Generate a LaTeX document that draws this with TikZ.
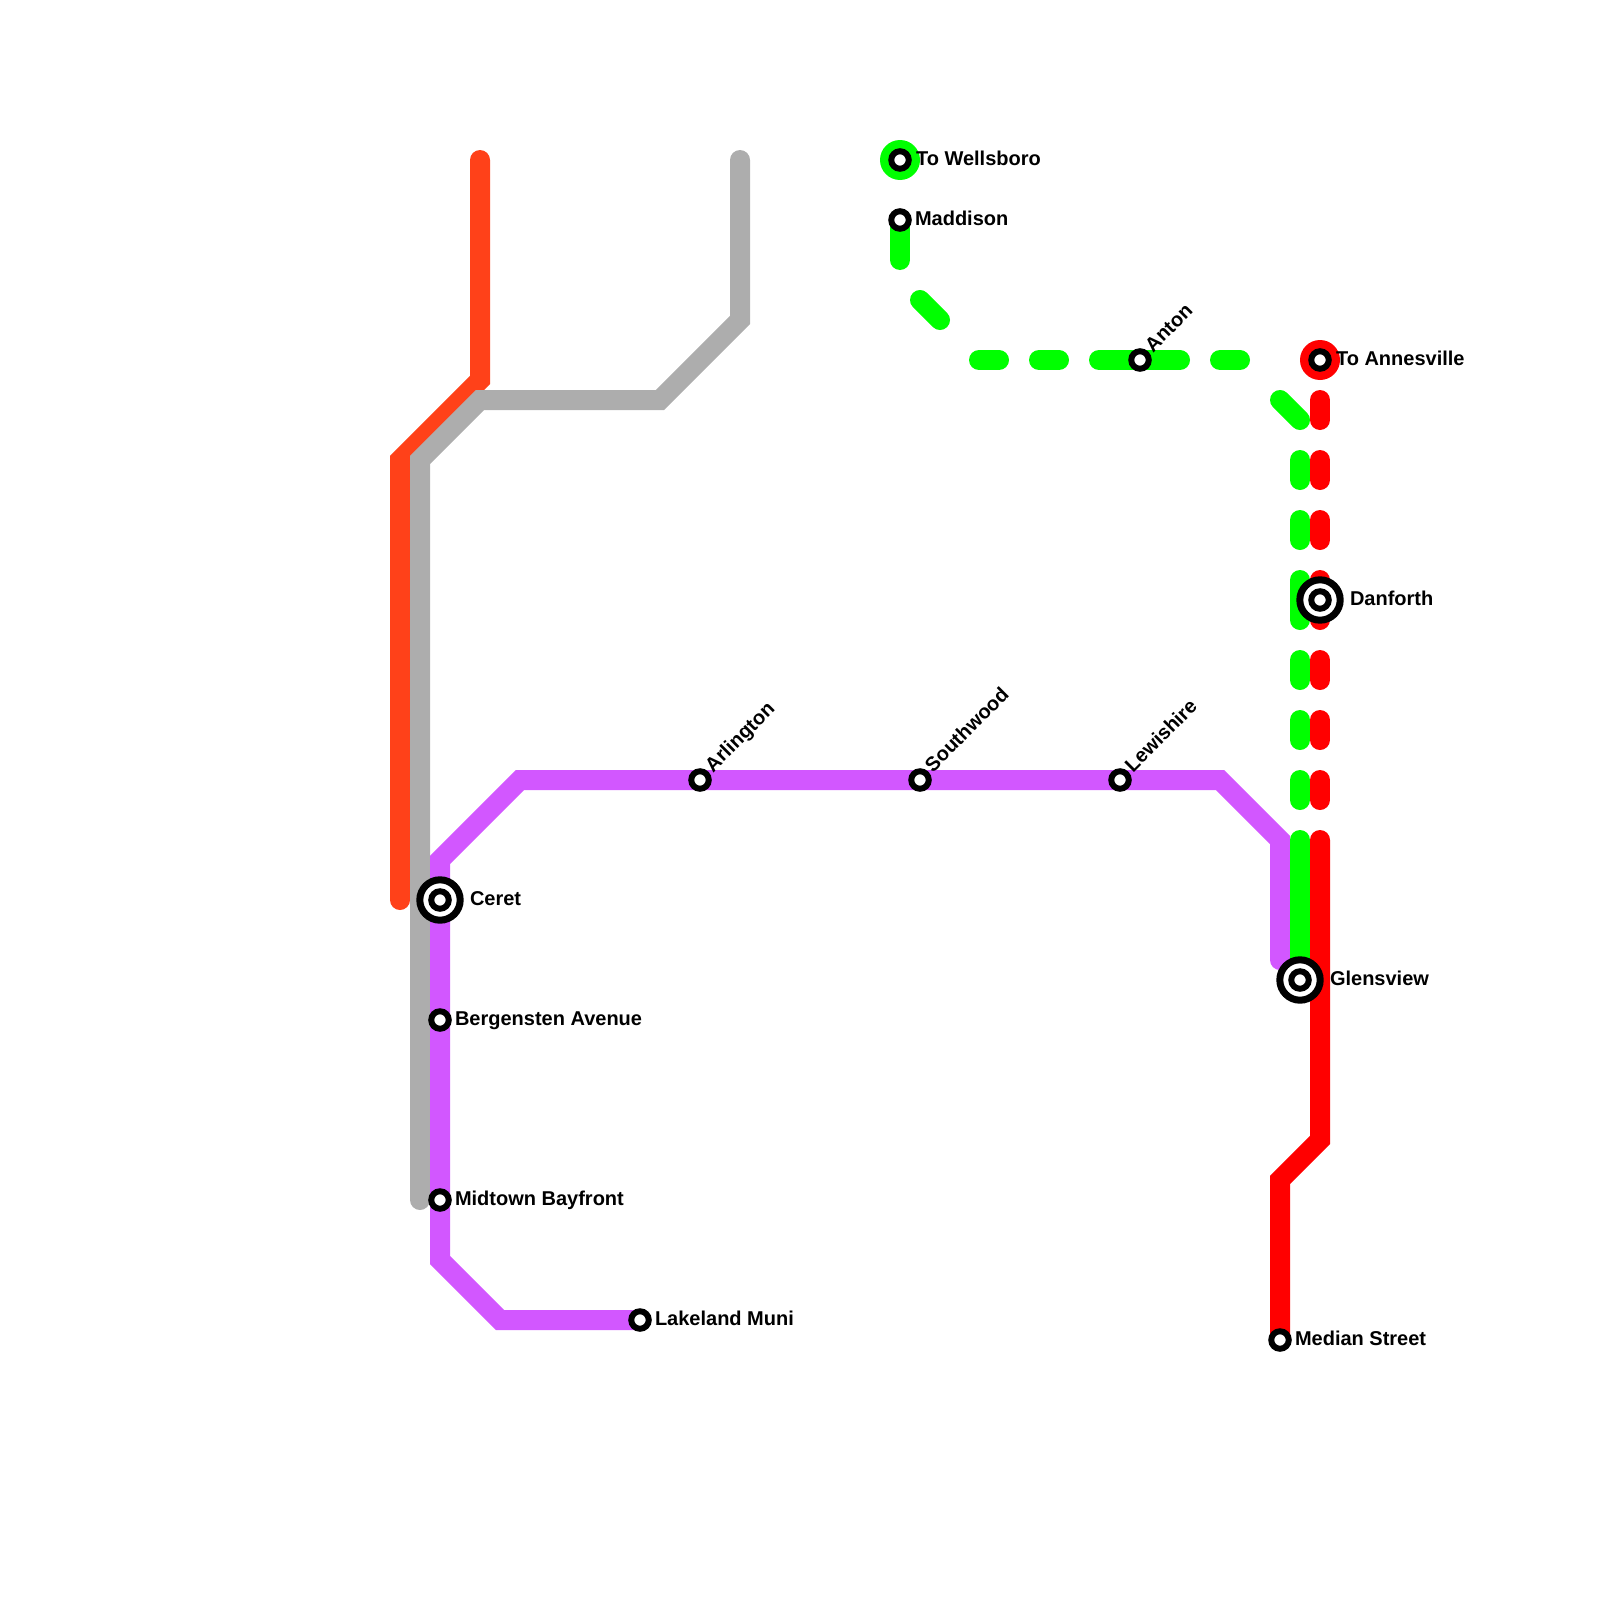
\documentclass[tikz,border=0pt]{standalone}
\usepackage{fontspec}
\setmainfont{Liberation Sans}
\definecolor{cOrange}{HTML}{FF4119}
\definecolor{cGray}{HTML}{ADADAD}
\definecolor{cPurple}{HTML}{D257FF}
\definecolor{cGreen}{HTML}{00FF00}
\definecolor{cRed}{HTML}{FF0000}
\tikzset{
  x=1pt,y=-1pt,
  transit/.style={line width=20pt,line join=miter,miter limit=10},
  capped/.style={transit,line cap=round},
  terminal/.style={circle,minimum size=40pt,inner sep=0pt,outer sep=0pt},
  stn/.style={circle,draw=black,fill=white,line width=6pt,minimum size=17.5pt,inner sep=0pt,outer sep=0pt},
  hubouter/.style={circle,draw=black,fill=white,line width=7pt,minimum size=40.4pt,inner sep=0pt,outer sep=0pt},
  lbl/.style={font=\fontsize{20}{22}\selectfont\bfseries,inner sep=0pt,outer sep=0pt,anchor=base west,text=black},
  lblr/.style={lbl,rotate=45},
}
\begin{document}
\begin{tikzpicture}
\useasboundingbox (0,0) rectangle (1600,1600);
% station positions
\coordinate (pWell) at (900,160);
\coordinate (pMadd) at (900,220);
\coordinate (pAnton) at (1140,360);
\coordinate (pAnne) at (1320,360);
\coordinate (pDanf) at (1320,600);
\coordinate (pGlen) at (1300,980);
\coordinate (pCeret) at (440,900);
\coordinate (pBerg) at (440,1020);
\coordinate (pMidt) at (440,1200);
\coordinate (pLake) at (640,1320);
\coordinate (pArl) at (700,780);
\coordinate (pSouth) at (920,780);
\coordinate (pLew) at (1120,780);
\coordinate (pMed) at (1280,1340);
% orange and grey lines
\draw[capped,line join=miter,cOrange] (480,160) -- (480,380) -- (400,460) -- (400,900);
\draw[capped,cGray] (740,160) -- (740,320) -- (660,400) -- (480,400) -- (420,460) -- (420,1200);
% purple line
\draw[capped,cPurple] (pLake) -- (500,1320) -- (440,1260) -- (pMidt) -- (pBerg) -- (pCeret) -- (440,860) -- (520,780) -- (pArl) -- (pSouth) -- (pLew) -- (1220,780) -- (1280,840) -- (1280,960);
% green line
\node[terminal,fill=cGreen] (tWell) at (pWell) {};
\draw[capped,cGreen] (pMadd) -- (900,260);
\draw[capped,cGreen] (920,300) -- (940,320);
\foreach \a/\b in {979/999,1039/1059,1099/1180,1220/1240}
  \draw[capped,cGreen] (\a,360) -- (\b,360);
\draw[capped,cGreen] (1280,400) -- (1300,420);
\foreach \a/\b in {460/480,520/540,580/620,660/680,720/740,780/800}
  \draw[capped,cGreen] (1300,\a) -- (1300,\b);
\draw[capped,cGreen] (1300,840) -- (pGlen);
% red line
\node[terminal,fill=cRed] (tAnne) at (pAnne) {};
\foreach \a/\b in {400/420,460/480,520/540,580/620,660/680,720/740,780/800}
  \draw[capped,cRed] (1320,\a) -- (1320,\b);
\draw[transit,line cap=round,cRed] (1320,840) -- (1320,1140) -- (1280,1180) -- (pMed);
% stations
\node[stn] (sWell) at (pWell) {};
\node[stn] (sMadd) at (pMadd) {};
\node[stn] (sAnton) at (pAnton) {};
\node[stn] (sAnne) at (pAnne) {};
\node[stn] (sBerg) at (pBerg) {};
\node[stn] (sMidt) at (pMidt) {};
\node[stn] (sLake) at (pLake) {};
\node[stn] (sArl) at (pArl) {};
\node[stn] (sSouth) at (pSouth) {};
\node[stn] (sLew) at (pLew) {};
\node[stn] (sMed) at (pMed) {};
\node[hubouter] (hCeret) at (pCeret) {};
\node[stn] (sCeret) at (pCeret) {};
\node[hubouter] (hDanf) at (pDanf) {};
\node[stn] (sDanf) at (pDanf) {};
\node[hubouter] (hGlen) at (pGlen) {};
\node[stn] (sGlen) at (pGlen) {};
% labels
\node[lbl] (lWell) at (916,165) {To Wellsboro};
\node[lbl] (lMadd) at (915,225) {Maddison};
\node[lbl] (lAnne) at (1336,365) {To Annesville};
\node[lbl] (lDanf) at (1350,605) {Danforth};
\node[lbl] (lGlen) at (1330,985) {Glensview};
\node[lbl] (lCeret) at (470,905) {Ceret};
\node[lbl] (lBerg) at (455,1025) {Bergensten Avenue};
\node[lbl] (lMidt) at (455,1205) {Midtown Bayfront};
\node[lbl] (lLake) at (655,1325) {Lakeland Muni};
\node[lbl] (lMed) at (1295,1345) {Median Street};
\node[lblr] (lArl) at (713,773) {Arlington};
\node[lblr] (lSouth) at (933,773) {Southwood};
\node[lblr] (lLew) at (1133,773) {Lewishire};
\node[lblr] (lAnton) at (1153,353) {Anton};
\end{tikzpicture}
\end{document}
